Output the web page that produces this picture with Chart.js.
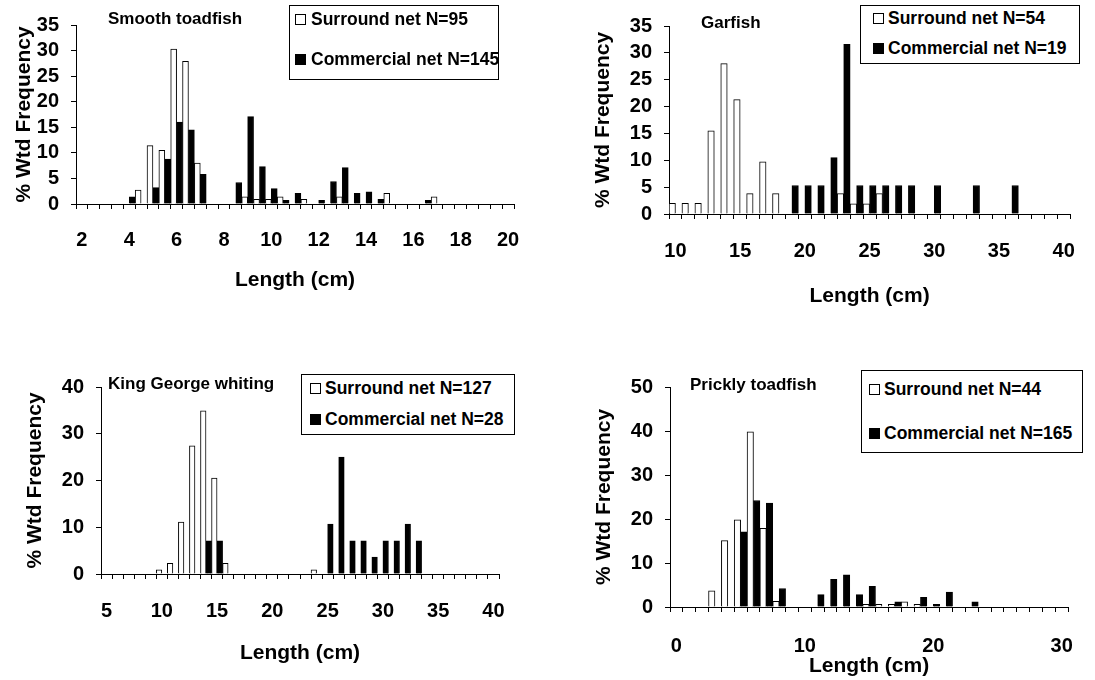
<!DOCTYPE html>
<html>
<head>
<meta charset="utf-8">
<script src="https://cdn.jsdelivr.net/npm/chart.js@4/dist/chart.umd.min.js"></script>
<style>
html,body{margin:0;padding:0;background:#fff;width:1095px;height:680px;overflow:hidden;font-family:"Liberation Sans",Arial,sans-serif;}
canvas{position:absolute;left:0;top:0;}
.ttl{position:absolute;font-weight:bold;font-size:17px;line-height:17px;white-space:nowrap;color:#000;z-index:5;}
.leg{position:absolute;border:1px solid #000;background:#fff;box-sizing:border-box;z-index:5;}
.row{position:absolute;display:flex;align-items:center;height:22px;font-weight:bold;font-size:17.5px;white-space:nowrap;color:#000;}
.mk{display:inline-block;width:11px;height:11px;box-sizing:border-box;border:1px solid #000;}
</style>
</head>
<body>
<canvas id="c1" width="1095" height="680"></canvas>
<canvas id="c2" width="1095" height="680"></canvas>
<canvas id="c3" width="1095" height="680"></canvas>
<canvas id="c4" width="1095" height="680"></canvas>
<script>
// ---------- DATA ----------
const panelTitles = ['Smooth toadfish', 'Garfish', 'King George whiting', 'Prickly toadfish'];
const surroundN = [95, 54, 127, 44];
const commercialN = [145, 19, 28, 165];
const xAxisTitle = 'Length (cm)';
const yAxisTitle = '% Wtd Frequency';

// Smooth toadfish (0.5 cm classes)
const smoothLengths = [2,2.5,3,3.5,4,4.5,5,5.5,6,6.5,7,7.5,8,8.5,9,9.5,10,10.5,11,11.5,12,12.5,13,13.5,14,14.5,15,15.5,16,16.5,17,17.5,18,18.5,19,19.5,20];
const smoothSurround = [0,0,0,0,0, 2.7,11.4,10.5,30.3,27.9, 8.0,0,0,0,1.4, 0.9,0.9,1.4,0,0.9, 0,0,1.4,0,0, 0,2.1,0,0,0, 1.4,0,0,0,0, 0,0];
const smoothCommercial = [0,0,0,0,1.4, 0,3.2,8.8,16.0,14.5, 5.8,0,0,4.2,17.1, 7.3,3.0,0.7,2.1,0, 0.7,4.4,7.1,2.1,2.4, 0.9,0,0,0,0.7, 0,0,0,0,0, 0,0];
const smoothTicks = [2,4,6,8,10,12,14,16,18,20];

// Garfish (1 cm classes)
const garfishLengths = [10,11,12,13,14,15,16,17,18,19,20,21,22,23,24,25,26,27,28,29,30,31,32,33,34,35,36,37,38,39,40];
const garfishSurround = [2.0,2.0,2.0,15.5,28.0, 21.3,3.8,9.7,3.8,0, 0,0,0,3.8,1.9, 1.9,3.8,0,0,0, 0,0,0,0,0, 0,0,0,0,0, 0];
const garfishCommercial = [0,0,0,0,0, 0,0,0,0,5.3, 5.3,5.3,10.5,31.6,5.3, 5.3,5.3,5.3,5.3,0, 5.3,0,0,5.3,0, 0,5.3,0,0,0, 0];
const garfishTicks = [10,15,20,25,30,35,40];

// King George whiting (1 cm classes)
const kgwLengths = [5,6,7,8,9,10,11,12,13,14,15,16,17,18,19,20,21,22,23,24,25,26,27,28,29,30,31,32,33,34,35,36,37,38,39,40];
const kgwSurround = [0,0,0,0,0, 0.9,2.3,11.1,27.4,34.9, 20.5,2.3,0,0,0, 0,0,0,0,0.9, 0,0,0,0,0, 0,0,0,0,0, 0,0,0,0,0, 0];
const kgwCommercial = [0,0,0,0,0, 0,0,0,0,7.1, 7.1,0,0,0,0, 0,0,0,0,0, 10.7,25.0,7.1,7.1,3.6, 7.1,7.1,10.7,7.1,0, 0,0,0,0,0, 0];
const kgwTicks = [5,10,15,20,25,30,35,40];

// Prickly toadfish (1 cm classes)
const pricklyLengths = [0,1,2,3,4,5,6,7,8,9,10,11,12,13,14,15,16,17,18,19,20,21,22,23,24,25,26,27,28,29,30];
const pricklySurround = [0,0,0,3.7,15.1, 19.8,39.8,17.9,1.3,0, 0,0,0,0,0, 0.6,0.6,0.6,1.2,0.6, 0,0,0,0,0, 0,0,0,0,0, 0];
const pricklyCommercial = [0,0,0,0,0, 17.1,24.2,23.6,4.2,0, 0,2.8,6.3,7.3,2.8, 4.7,0,1.2,0,2.2, 0.6,3.4,0,1.2,0, 0,0,0,0,0, 0];
const pricklyTicks = [0,10,20,30];

const yMaxes = [35, 35, 40, 50];
const ySteps = [5, 5, 10, 10];

// ---------- LAYOUT ----------
const W = 1095, H = 680;
const FONT = '"Liberation Sans", Arial, sans-serif';
const TICK_SIZE = 20, AXTITLE_SIZE = 21;

const layouts = [
  {area:{l:76,r:514,t:25,b:204}, yTitleX:24, xLabelY:240, xTitleY:280, title:{x:108,capTop:12},
   leg:{l:289,t:5,r:499,b:80,m:295,tx:311,r1:19,r2:59}},
  {area:{l:669,r:1082,t:26,b:214}, yTitleX:603, xLabelY:251, xTitleY:296, title:{x:701,capTop:16},
   leg:{l:860,t:5,r:1080,b:64,m:873,tx:888,r1:18,r2:48}},
  {area:{l:101,r:499,t:387,b:574}, yTitleX:35, xLabelY:611, xTitleY:653, title:{x:108,capTop:377},
   leg:{l:301,t:374,r:515,b:435,m:310,tx:325,r1:388,r2:419}},
  {area:{l:670,r:1086,t:387,b:607}, yTitleX:604, xLabelY:646, xTitleY:666, title:{x:690,capTop:378},
   leg:{l:861,t:370,r:1083,b:453,m:869,tx:884,r1:389,r2:433}}
];

const panels = [
  {labels:smoothLengths, s:smoothSurround, c:smoothCommercial, ticks:smoothTicks},
  {labels:garfishLengths, s:garfishSurround, c:garfishCommercial, ticks:garfishTicks},
  {labels:kgwLengths, s:kgwSurround, c:kgwCommercial, ticks:kgwTicks},
  {labels:pricklyLengths, s:pricklySurround, c:pricklyCommercial, ticks:pricklyTicks}
];

function makePanel(i) {
  const p = panels[i], L = layouts[i], a = L.area;
  const tickFont = {family: FONT, size: TICK_SIZE, weight: 'bold'};
  const titleFont = {family: FONT, size: AXTITLE_SIZE, weight: 'bold'};
  const tickLH = TICK_SIZE * 1.2, titleLH = AXTITLE_SIZE * 1.2;
  const yW = a.l - (L.yTitleX - titleLH / 2);
  const xH = (L.xTitleY + titleLH / 2) - a.b;
  const xPad = L.xLabelY - a.b - 5 - tickLH / 2;
  const sLabel = 'Surround net N=' + surroundN[i];
  const cLabel = 'Commercial net N=' + commercialN[i];
  new Chart(document.getElementById('c' + (i + 1)), {
    type: 'bar',
    data: {
      labels: p.labels,
      datasets: [
        {label: sLabel, data: p.s, backgroundColor: '#ffffff', borderColor: '#000000', borderWidth: 1,
         categoryPercentage: 1, barPercentage: 1},
        {label: cLabel, data: p.c, backgroundColor: '#000000', borderColor: '#000000', borderWidth: 1,
         categoryPercentage: 1, barPercentage: 1}
      ]
    },
    options: {
      responsive: false, animation: false, devicePixelRatio: 1,
      layout: {padding: {left: a.l - yW, top: a.t, right: W - a.r, bottom: H - a.b - xH}},
      plugins: {legend: {display: false}, tooltip: {enabled: false}, title: {display: false}},
      scales: {
        x: {
          type: 'category', offset: true,
          grid: {offset: true, drawOnChartArea: false, drawTicks: true, tickLength: 5, color: '#000', lineWidth: 1},
          border: {display: true, color: '#000', width: 1},
          ticks: {autoSkip: false, maxRotation: 0, minRotation: 0, padding: xPad, color: '#000', font: tickFont,
            callback: function(v, idx) { const lab = p.labels[idx]; return p.ticks.includes(lab) ? String(lab) : ''; }},
          title: {display: true, text: xAxisTitle, color: '#000', font: titleFont, padding: 0},
          afterFit: function(s) { s.height = xH; }
        },
        y: {
          min: 0, max: yMaxes[i],
          ticks: {stepSize: ySteps[i], autoSkip: false, padding: 12, color: '#000', font: tickFont},
          grid: {drawOnChartArea: false, drawTicks: true, tickLength: 5, color: '#000', lineWidth: 1},
          border: {display: true, color: '#000', width: 1},
          title: {display: true, text: yAxisTitle, color: '#000', font: titleFont, padding: 0},
          afterFit: function(s) { s.width = yW; }
        }
      }
    }
  });

  // panel title
  const t = document.createElement('div');
  t.className = 'ttl';
  t.textContent = panelTitles[i];
  t.style.left = L.title.x + 'px';
  t.style.top = (L.title.capTop - 2) + 'px';
  document.body.appendChild(t);

  // legend box
  const g = L.leg;
  const box = document.createElement('div');
  box.className = 'leg';
  box.style.left = g.l + 'px'; box.style.top = g.t + 'px';
  box.style.width = (g.r - g.l) + 'px'; box.style.height = (g.b - g.t) + 'px';
  [[sLabel, '#fff', g.r1], [cLabel, '#000', g.r2]].forEach(function(it) {
    const row = document.createElement('div');
    row.className = 'row';
    row.style.left = (g.m - g.l - 1) + 'px';
    row.style.top = (it[2] - g.t - 1 - 11) + 'px';
    const mk = document.createElement('span');
    mk.className = 'mk';
    mk.style.background = it[1];
    mk.style.marginRight = (g.tx - g.m - 11) + 'px';
    const tx = document.createElement('span');
    tx.textContent = it[0];
    row.appendChild(mk); row.appendChild(tx);
    box.appendChild(row);
  });
  document.body.appendChild(box);
}
for (let i = 0; i < 4; i++) makePanel(i);
</script>
</body>
</html>
